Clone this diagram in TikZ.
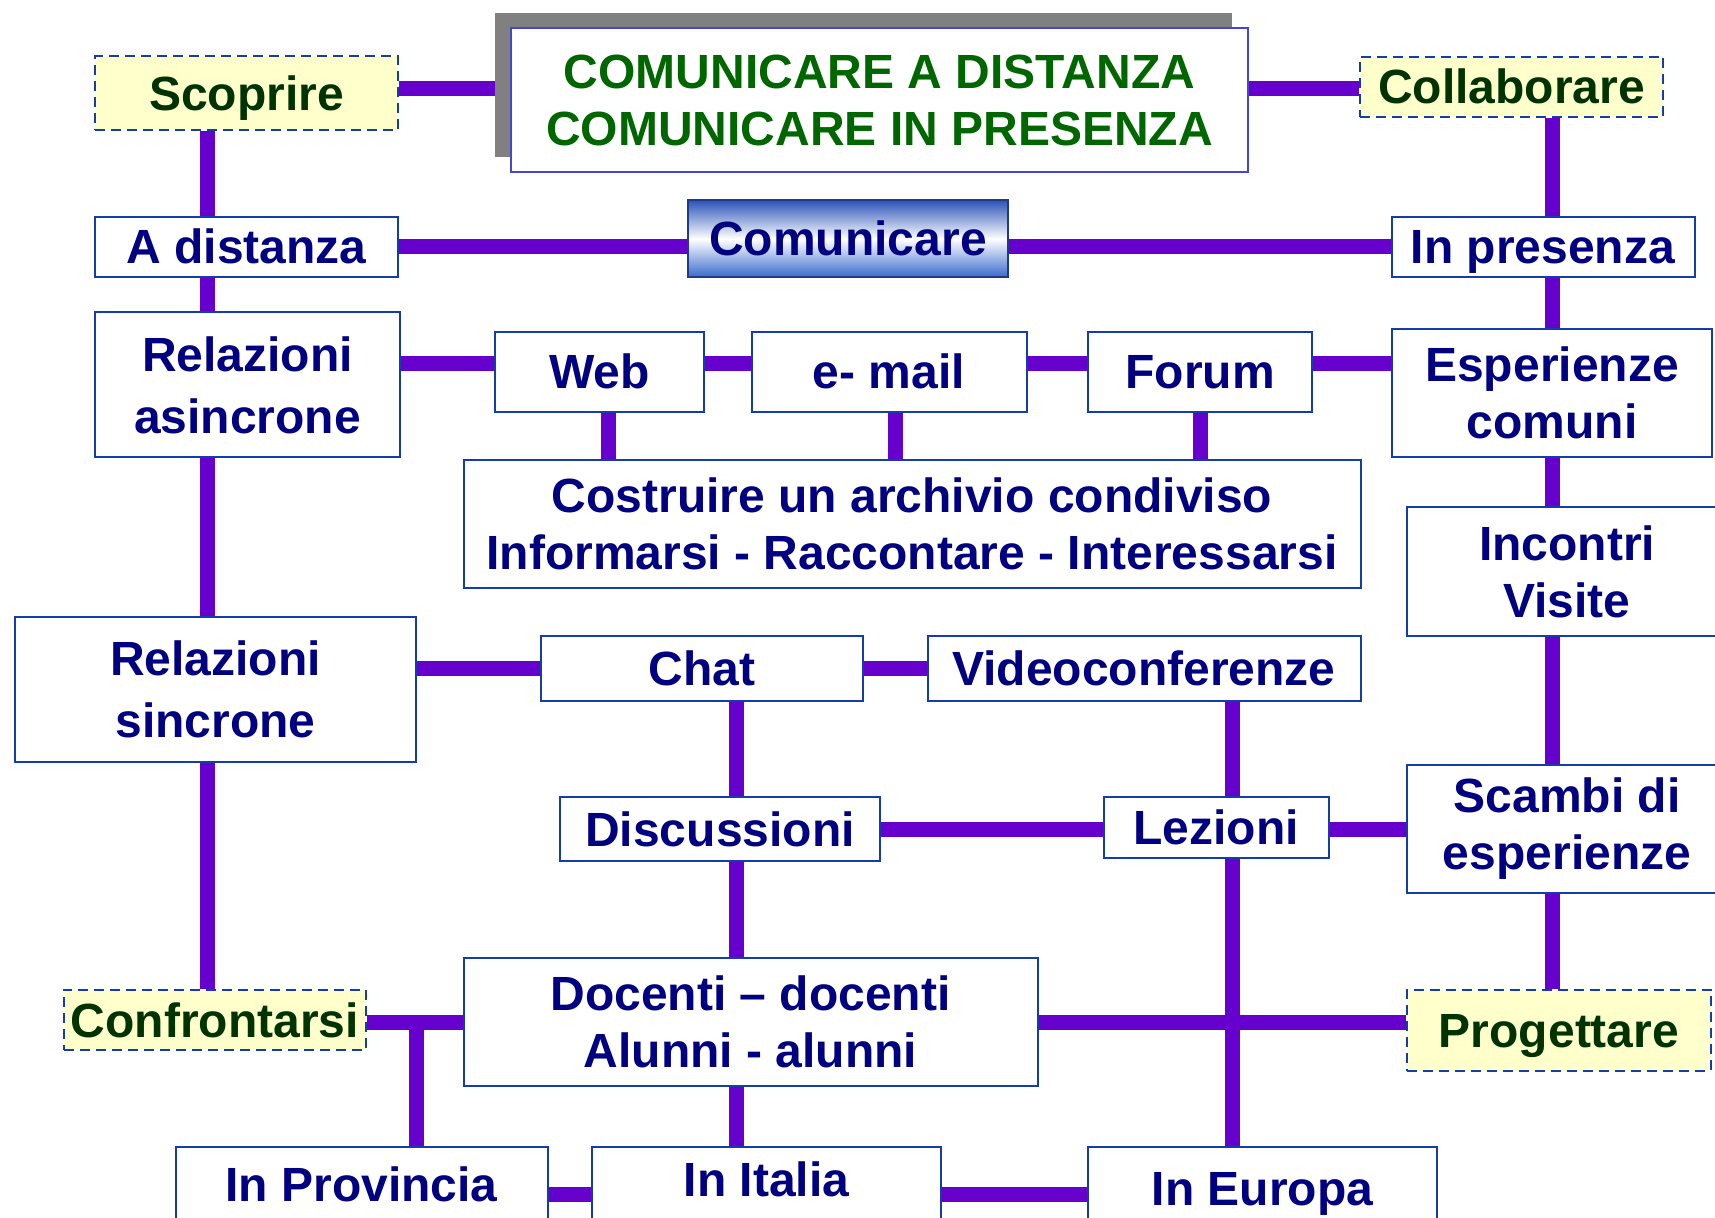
\documentclass[tikz,border=0pt]{standalone}
\usepackage{fontspec}
\setmainfont{Liberation Sans}
\usetikzlibrary{shadows,backgrounds}

\definecolor{spoj}{RGB}{102,0,204}
\definecolor{okraj}{RGB}{20,60,170}
\definecolor{okrajtit}{RGB}{70,70,210}
\definecolor{blu}{RGB}{0,0,128}
\definecolor{verde}{RGB}{0,102,0}
\definecolor{verdescuro}{RGB}{0,51,0}
\definecolor{giallo}{RGB}{255,255,204}
\definecolor{grigio}{RGB}{128,128,128}
\definecolor{comtop}{RGB}{45,85,185}
\definecolor{combot}{RGB}{55,105,205}

\begin{document}
\begin{tikzpicture}[x=0.4pt,y=-0.4pt,
    link/.style={line width=6pt, color=spoj},
    box/.style={draw=okraj, line width=0.8pt, fill=white, text=blu,
      inner sep=0pt, align=center,
      font=\fontsize{19.2pt}{22.8pt}\selectfont\bfseries},
    riga/.style={text height=13.6pt, text depth=0pt},
    meta/.style={box, riga, fill=giallo, text=verdescuro,
      dash pattern=on 4pt off 2.4pt},
    rel/.style={font=\fontsize{19.2pt}{24.8pt}\selectfont\bfseries},
    dim/.style 2 args={minimum width=#1*0.4pt, minimum height=#2*0.4pt}]

  \useasboundingbox (0,0) rectangle (1715,1218);
  \clip (0,0) rectangle (1715,1218);

  % titolo
  \node[box, dim={737}{144}, draw=okrajtit, text=verde,
        drop shadow={shadow xshift=-6.4pt, shadow yshift=6pt,
                     fill=grigio, opacity=1}]
        (Tit) at (879.5,100) {COMUNICARE A DISTANZA\\COMUNICARE IN PRESENZA};

  % obiettivi
  \node[meta, dim={303}{74}]   (Sco) at (246.5,93.5) {Scoprire};
  \node[meta, dim={303}{60.5}] (Col) at (1511.5,87)  {Collaborare};
  \node[meta, dim={302}{60.5}] (Con) at (215,1020)   {Confrontarsi};
  \node[meta, dim={304}{81}]   (Pro) at (1559,1030)  {Progettare};

  \node[box, riga, dim={320}{77}, draw=comtop!70!black,
        top color=comtop, bottom color=combot, middle color=white]
        (Com) at (848,239) {Comunicare};

  \node[box, riga, dim={303}{60}] (Dist) at (246.5,247) {A distanza};
  \node[box, riga, dim={303}{60}] (Pres) at (1543,247)  {In presenza};

  % relazioni asincrone
  \node[box, rel, dim={305}{145}] (RelA) at (247.5,385) {Relazioni\\asincrone};
  \node[box, riga, dim={209}{80}]   (Web)  at (599.5,372) {Web};
  \node[box, riga, dim={275}{80}]   (Mail) at (889,372)   {e- mail};
  \node[box, riga, dim={224.5}{80}] (For)  at (1200,372)  {Forum};
  \node[box, dim={897}{128}] (Cos) at (912,524)
        {Costruire un archivio condiviso\\Informarsi - Raccontare - Interessarsi};

  % in presenza
  \node[box, dim={320}{128.5}] (Esp) at (1552,393)  {Esperienze\\comuni};
  \node[box, dim={320}{129}]   (Inc) at (1567,571.5) {Incontri\\Visite};
  \node[box, dim={320}{128}]   (Sca) at (1567,829)  {Scambi di\\esperienze};

  % relazioni sincrone
  \node[box, rel, dim={401}{145}] (RelS) at (215.5,689.5) {Relazioni\\sincrone};
  \node[box, riga, dim={321.5}{65}] (Chat) at (702,668.5)  {Chat};
  \node[box, riga, dim={433}{65}]   (Vid)  at (1144,668.5) {Videoconferenze};
  \node[box, riga, dim={320.5}{64.5}] (Dis) at (720,829)   {Discussioni};
  \node[box, riga, dim={225}{61}]   (Lez)  at (1216,827)   {Lezioni};
  \node[box, dim={574}{128.5}] (Doc) at (750.6,1022)
        {Docenti -- docenti\\Alunni - alunni};

  % ambiti
  \node[box, riga, dim={372}{74}] (Prov) at (361.5,1184) {In Provincia};
  \node[box, riga, text depth=10.4pt, dim={349}{90}] (Ita) at (766.5,1192)
        {In Italia};
  \node[box, dim={349}{94}]       (Eur)  at (1262.5,1194) {In Europa};

  % spojnice
  \coordinate (sx) at (207.5,0);
  \coordinate (dx) at (1552,0);
  \coordinate (cx) at (736,0);
  \coordinate (ex) at (1232,0);
  \coordinate (px) at (416,0);
  \coordinate (r1) at (0,88.5);
  \coordinate (r2) at (0,364);

  \begin{scope}[on background layer]
    \draw[link] (Sco.east |- r1) -- (Tit.west |- r1);
    \draw[link] (Tit.east |- r1) -- (Col.west |- r1);

    \foreach \a/\b in {Sco/Dist, Dist/RelA, RelA/RelS, RelS/Con}
      \draw[link] (sx |- \a.south) -- (sx |- \b.north);
    \foreach \a/\b in {Col/Pres, Pres/Esp, Esp/Inc, Inc/Sca, Sca/Pro}
      \draw[link] (dx |- \a.south) -- (dx |- \b.north);

    \draw[link] (Dist.east) -- (Dist.east -| Com.west);
    \draw[link] (Com.east |- Pres) -- (Pres.west);

    \foreach \a/\b in {RelA/Web, Web/Mail, Mail/For, For/Esp}
      \draw[link] (\a.east |- r2) -- (\b.west |- r2);
    \foreach \a/\s in {Web/8.5, Mail/6, For/0}
      \draw[link] ([xshift=\s*0.4pt]\a.south)
                  -- ([xshift=\s*0.4pt]\a.south |- Cos.north);

    \draw[link] (RelS.east |- Chat) -- (Chat.west);
    \draw[link] (Chat.east) -- (Vid.west);
    \foreach \a/\b in {Chat/Dis, Dis/Doc, Doc/Ita}
      \draw[link] (cx |- \a.south) -- (cx |- \b.north);
    \foreach \a/\b in {Vid/Lez, Lez/Eur}
      \draw[link] (ex |- \a.south) -- (ex |- \b.north);

    \draw[link] (Dis.east) -- (Dis.east -| Lez.west);
    \draw[link] (Dis -| Lez.east) -- (Dis -| Sca.west);

    \draw[link] (Con.east |- Doc) -- (Doc.west);
    \draw[link] (px |- Doc) -- (px |- Prov.north);
    \draw[link] (Doc.east) -- (Doc.east -| Pro.west);

    \draw[link] (Prov.east |- Eur) -- (Ita.west |- Eur);
    \draw[link] (Ita.east |- Eur) -- (Eur.west);
  \end{scope}

\end{tikzpicture}
\end{document}
